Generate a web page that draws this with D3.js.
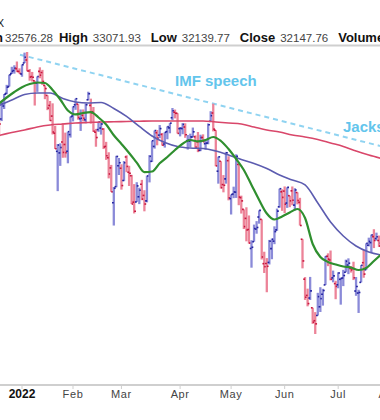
<!DOCTYPE html>
<html lang="en">
<head>
<meta charset="UTF-8" />
<title>Dow Jones 2022</title>
<style>
  body { margin: 0; background: #fff; }
  svg { display: block; font-family: "Liberation Sans", Arial, sans-serif; }
</style>
</head>
<body>
<div id="chart"></div>
<script src="https://cdn.jsdelivr.net/npm/d3@7/dist/d3.min.js"></script>
<script>
// trading days on the chart (Dec 20 2021 .. Aug 1 2022)
const dates = [
  "2021-12-20","2021-12-21","2021-12-22","2021-12-23","2021-12-27","2021-12-28","2021-12-29","2021-12-30","2021-12-31",
  "2022-01-03","2022-01-04","2022-01-05","2022-01-06","2022-01-07","2022-01-10","2022-01-11","2022-01-12","2022-01-13","2022-01-14",
  "2022-01-18","2022-01-19","2022-01-20","2022-01-21","2022-01-24","2022-01-25","2022-01-26","2022-01-27","2022-01-28","2022-01-31",
  "2022-02-01","2022-02-02","2022-02-03","2022-02-04","2022-02-07","2022-02-08","2022-02-09","2022-02-10","2022-02-11","2022-02-14",
  "2022-02-15","2022-02-16","2022-02-17","2022-02-18","2022-02-22","2022-02-23","2022-02-24","2022-02-25","2022-02-28",
  "2022-03-01","2022-03-02","2022-03-03","2022-03-04","2022-03-07","2022-03-08","2022-03-09","2022-03-10","2022-03-11","2022-03-14",
  "2022-03-15","2022-03-16","2022-03-17","2022-03-18","2022-03-21","2022-03-22","2022-03-23","2022-03-24","2022-03-25","2022-03-28",
  "2022-03-29","2022-03-30","2022-03-31",
  "2022-04-01","2022-04-04","2022-04-05","2022-04-06","2022-04-07","2022-04-08","2022-04-11","2022-04-12","2022-04-13","2022-04-14",
  "2022-04-18","2022-04-19","2022-04-20","2022-04-21","2022-04-22","2022-04-25","2022-04-26","2022-04-27","2022-04-28","2022-04-29",
  "2022-05-02","2022-05-03","2022-05-04","2022-05-05","2022-05-06","2022-05-09","2022-05-10","2022-05-11","2022-05-12","2022-05-13",
  "2022-05-16","2022-05-17","2022-05-18","2022-05-19","2022-05-20","2022-05-23","2022-05-24","2022-05-25","2022-05-26","2022-05-27","2022-05-31",
  "2022-06-01","2022-06-02","2022-06-03","2022-06-06","2022-06-07","2022-06-08","2022-06-09","2022-06-10","2022-06-13","2022-06-14",
  "2022-06-15","2022-06-16","2022-06-17","2022-06-21","2022-06-22","2022-06-23","2022-06-24","2022-06-27","2022-06-28","2022-06-29","2022-06-30",
  "2022-07-01","2022-07-05","2022-07-06","2022-07-07","2022-07-08","2022-07-11","2022-07-12","2022-07-13","2022-07-14","2022-07-15",
  "2022-07-18","2022-07-19","2022-07-20","2022-07-21","2022-07-22","2022-07-25","2022-07-26","2022-07-27","2022-07-28","2022-07-29",
  "2022-08-01"
];
const open = [
  35046,35070,35427,35776,35970,36335,36421,36476,36396,
  36322,36636,36722,36409,36249,36131,36067,36398,36364,36002,35722,35442,35150,34682,34196,34154,34445,34379,34197,34646,
  35152,35460,35480,35075,35169,35047,35600,35444,35271,34710,34780,34822,34796,34327,34026,33757,32851,33265,33815,
  33747,33426,34046,33642,33552,32866,32871,33005,33330,33039,32900,33650,33930,34327,34696,34631,34650,34394,34725,34827,35104,35253,35225,
  34807,34809,34851,34481,34467,34579,34585,34452,34223,34567,34400,34417,35007,35234,34764,33670,33932,33320,33469,33948,
  32957,33074,33124,33849,32982,32681,32453,32174,31700,31867,32183,32487,32428,31326,31330,31356,31696,31881,32164,32747,33133,
  33151,32843,33033,33158,32790,33115,32861,31929,30949,30560,30497,30266,29962,30084,30290,30587,30811,31508,31416,30981,30842,
  30814,30946,30977,31118,31293,31210,31205,30664,30616,30872,31350,31177,31780,31845,31994,31946,31898,31833,32203,32519,
  32785
];
const high = [
  35101,35537,35760,36017,36303,36528,36571,36679,36484,
  36595,36934,36952,36464,36382,36131,36253,36513,36440,36002,35722,35567,35501,34882,34390,34409,34955,34699,34727,35133,
  35418,35629,35480,35331,35332,35495,35824,35631,35399,34800,34997,34964,34819,34450,34171,33836,33258,34076,34018,
  33852,33938,34090,33812,33574,33332,33382,33239,33443,33174,33555,34095,34484,34755,34769,34905,34690,34710,34866,34956,35372,35329,35227,
  34849,34956,34952,34636,34671,34836,34625,34715,34643,34652,34516,34948,35284,35492,34764,34054,33932,33568,34181,34065,
  33062,33266,34117,33849,33034,32681,32735,32527,31904,32296,32383,32655,32428,31619,31462,31912,31946,32252,32702,33213,33198,
  33272,33249,33033,33271,33226,33119,32978,31929,31000,30721,31004,30266,30164,30621,30756,30717,31509,31579,31649,31157,30910,
  31116,30985,31175,31424,31456,31267,31374,31001,30694,31291,31661,31827,31968,32044,32179,32093,32021,32292,32574,32909,
  32932
];
const low = [
  34596,35013,35344,35754,35970,36323,36333,36375,36336,
  36246,36636,36400,36133,36111,35440,35820,36202,36014,35616,35313,35014,34649,34258,33150,33810,34025,34028,33878,34565,
  35004,35322,35052,34745,35007,34951,35583,34942,34720,34319,34720,34645,34257,33969,33481,33131,32272,33252,33570,
  33189,33408,33645,33284,32818,32578,32871,32816,32916,32632,32861,33377,33912,34269,34357,34547,34349,34296,34519,34681,35036,35086,34675,
  34597,34655,34559,34243,34307,34579,34288,34174,34200,34444,34237,34384,34991,34732,33800,33344,33216,33119,33343,32913,
  32551,32969,32975,32788,32575,32184,31877,31819,31228,31867,32067,32319,31428,31099,30635,31306,31435,31806,32139,32726,32644,
  32585,32720,32737,32786,32650,32810,32273,31211,30452,30300,30450,29888,29653,30084,30166,30317,30811,31265,30921,30873,30469,
  30730,30340,30782,31117,31071,31109,30928,30550,30144,30872,30984,31177,31751,31603,31709,31894,31738,31815,32071,32480,
  32648
];
const close = [
  34932,35493,35754,35951,36302,36398,36488,36398,36338,
  36585,36800,36408,36236,36231,36068,36252,36290,36113,35912,35369,35029,34715,34265,34364,34298,34168,34160,34725,35132,
  35405,35629,35111,35089,35091,35463,35768,35241,34738,34566,34989,34935,34312,34079,33597,33132,33224,34059,33893,
  33295,33891,33795,33615,32818,32633,33286,33174,32945,32818,33545,34063,34481,34755,34553,34808,34359,34708,34861,34956,35295,35229,34678,
  34818,34922,34641,34497,34583,34721,34308,34221,34565,34452,34412,34911,35161,34793,33811,34049,33240,33302,34160,32977,
  33062,33129,34061,32998,32899,32246,32161,31834,31730,32197,32223,32655,31490,31253,31262,31880,31929,32120,32637,33213,32990,
  32813,33248,32900,32916,33180,32910,32273,31393,30517,30365,30668,29927,29889,30530,30483,30677,31501,31438,30947,31029,30775,
  31097,30968,31037,31385,31338,31173,30982,30773,30630,31288,31072,31827,31875,32036,31899,31990,31762,32198,32529,32845,
  32798
];

// moving averages on a few days
const ma20Dates = [
  "2021-12-20","2021-12-23","2021-12-29","2022-01-03","2022-01-06","2022-01-11","2022-01-14","2022-01-20","2022-01-25","2022-01-28",
  "2022-02-02","2022-02-07","2022-02-10","2022-02-15","2022-02-18","2022-02-24","2022-03-01","2022-03-04","2022-03-09","2022-03-14",
  "2022-03-17","2022-03-22","2022-03-25","2022-03-30","2022-04-04","2022-04-07","2022-04-12","2022-04-18","2022-04-21","2022-04-26",
  "2022-04-29","2022-05-04","2022-05-09","2022-05-12","2022-05-17","2022-05-20","2022-05-25","2022-05-31","2022-06-03","2022-06-08",
  "2022-06-13","2022-06-16","2022-06-22","2022-06-27","2022-06-30","2022-07-06","2022-07-11","2022-07-14","2022-07-19","2022-07-22","2022-07-27"
];
const ma20 = [
  35497,35663,35817,35951,36039,36083,36069,35873,35608,35303,
  35194,35235,35257,35111,34917,34627,34392,34152,33897,33644,
  33661,33878,34046,34232,34400,34500,34460,34500,34581,34473,
  34258,33992,33702,33310,32922,32577,32425,32501,32602,32691,
  32463,31811,31489,31367,31306,31257,31233,31172,31220,31391,31563
];
const maLongDates = [
  "2021-12-20","2021-12-28","2022-01-04","2022-01-11","2022-01-19","2022-01-26","2022-02-02","2022-02-09","2022-02-16","2022-02-24",
  "2022-03-03","2022-03-10","2022-03-17","2022-03-24","2022-03-31","2022-04-07","2022-04-14","2022-04-22","2022-04-29","2022-05-06",
  "2022-05-13","2022-05-20","2022-05-27","2022-06-06","2022-06-13","2022-06-21","2022-06-28","2022-07-06","2022-07-13","2022-07-20","2022-07-27"
];
const ma50 = [
  35442,35594,35747,35789,35789,35636,35539,35511,35525,35359,
  35139,34866,34608,34433,34326,34285,34272,34205,34099,33979,
  33873,33741,33571,33440,33310,32845,32361,32010,31761,31612,31539
];
const ma200 = [
  34622,34703,34771,34852,34906,34933,34961,34975,34988,34994,
  35002,35009,35016,35016,35016,35016,35016,34988,34961,34933,
  34852,34771,34716,34635,34582,34514,34420,34326,34205,34099,34006
];

// dashed trend line through two highs
const trendDates = ["2022-01-03", "2022-04-21"];
const trendValues = [36860, 35492];

const tickDates = ["2022-01-03","2022-02-01","2022-03-01","2022-04-01","2022-05-02","2022-06-01","2022-07-01","2022-08-01"];
const tickLabels = ["2022","Feb","Mar","Apr","May","Jun","Jul","Aug"];

const headerLabels = ["High", "Low", "Close", "Volume"];
const headerValues = ["33071.93", "32139.77", "32147.76"];
const openValue = "32576.28";

const width = 380;
const height = 420;
const plotTop = 46;
const plotBottom = 385;

const svg = d3.select("#chart").append("svg")
  .attr("width", width)
  .attr("height", height);

svg.append("rect").attr("width", width).attr("height", height).attr("fill", "#fff");

// x: one slot per trading day, y: log price scale
const x = d3.scalePoint().domain(dates).range([-0.95, 389.2]);
const y = d3.scaleLog().domain([29653, 36952]).range([334, 52]);

svg.append("defs").append("clipPath").attr("id", "plot")
  .append("rect").attr("x", 0).attr("y", plotTop).attr("width", width).attr("height", plotBottom - plotTop);

// title, cut at the left edge like the source
svg.append("text").attr("x", 4).attr("y", 27).attr("text-anchor", "end")
  .attr("font-size", 11).attr("fill", "#222").text("$INDU Dow Jones Industrial Average INDX");

// header line, laid out left to right
const header = svg.append("g").attr("transform", "translate(0,42)");
header.append("text").attr("x", 3).attr("text-anchor", "end")
  .attr("font-size", 13).attr("font-weight", "bold").attr("fill", "#111").text("Open");
let cx = 5;
function headerNum(t, gap) {
  const n = header.append("text").attr("x", cx).attr("font-size", 11.5).attr("fill", "#444").text(t);
  cx += n.node().getComputedTextLength() + gap;
}
function headerLab(t) {
  const n = header.append("text").attr("x", cx).attr("font-size", 13).attr("font-weight", "bold")
    .attr("fill", "#111").text(t);
  cx += n.node().getComputedTextLength() + 5;
}
headerNum(openValue, 6);
headerLabels.forEach((lab, i) => {
  headerLab(lab);
  if (headerValues[i]) headerNum(headerValues[i], 10);
});

svg.append("line").attr("x1", 0).attr("x2", width).attr("y1", 45.5).attr("y2", 45.5)
  .attr("stroke", "#cfcfcf").attr("stroke-width", 2);
svg.append("line").attr("x1", 0).attr("x2", width).attr("y1", 385).attr("y2", 385)
  .attr("stroke", "#cfcfcf").attr("stroke-width", 2);

const plot = svg.append("g").attr("clip-path", "url(#plot)");

// trend line, extended to the right edge
const p1 = [x(trendDates[0]), y(trendValues[0])];
const p2 = [x(trendDates[1]), y(trendValues[1])];
const slope = (p2[1] - p1[1]) / (p2[0] - p1[0]);
plot.append("line")
  .attr("x1", p1[0] - 2).attr("y1", p1[1] - 2 * slope)
  .attr("x2", width).attr("y2", p1[1] + (width - p1[0]) * slope)
  .attr("stroke", "#8fd3f1").attr("stroke-width", 2).attr("stroke-dasharray", "5,4");

// OHLC bars
const bars = dates.map((d, i) => ({ d, o: open[i], h: high[i], l: low[i], c: close[i] }));
const upLine = "#8a8ad8", upTick = "#2323a0";
const dnLine = "#ec8398", dnTick = "#c8163e";

const bar = plot.selectAll("g.bar").data(bars).join("g").attr("class", "bar");
bar.append("line")
  .attr("x1", b => x(b.d)).attr("x2", b => x(b.d))
  .attr("y1", b => y(b.h)).attr("y2", b => y(b.l))
  .attr("stroke", b => b.c >= b.o ? upLine : dnLine).attr("stroke-width", 2.3);
bar.append("line")
  .attr("x1", b => x(b.d) - 1.8).attr("x2", b => x(b.d))
  .attr("y1", b => y(b.o)).attr("y2", b => y(b.o))
  .attr("stroke", b => b.c >= b.o ? upTick : dnTick).attr("stroke-width", 1.6);
bar.append("line")
  .attr("x1", b => x(b.d)).attr("x2", b => x(b.d) + 1.8)
  .attr("y1", b => y(b.c)).attr("y2", b => y(b.c))
  .attr("stroke", b => b.c >= b.o ? upTick : dnTick).attr("stroke-width", 1.6);

// moving averages
function maLine(ds, vs, color, w) {
  const line = d3.line().x(p => x(p[0])).y(p => y(p[1])).curve(d3.curveMonotoneX);
  plot.append("path").attr("d", line(ds.map((d, i) => [d, vs[i]])))
    .attr("fill", "none").attr("stroke", color).attr("stroke-width", w);
}
maLine(maLongDates, ma200, "#d9476a", 1.6);
maLine(maLongDates, ma50, "#5c5cb0", 1.6);
maLine(ma20Dates, ma20, "#2f8f2f", 2.2);

// annotations
plot.append("text").attr("x", 175).attr("y", 86).attr("font-size", 15).attr("font-weight", "bold")
  .attr("fill", "#63c5ec").text("IMF speech");
plot.append("text").attr("x", 343).attr("y", 132).attr("font-size", 15).attr("font-weight", "bold")
  .attr("fill", "#63c5ec").text("Jackson Hole");

// month axis
const ax = svg.append("g");
tickDates.forEach((t, i) => {
  const tx = x(t);
  ax.append("line").attr("x1", tx).attr("x2", tx).attr("y1", 385).attr("y2", 389)
    .attr("stroke", "#cfcfcf");
  ax.append("text").attr("x", tx).attr("y", 398).attr("text-anchor", "middle")
    .attr("font-size", i === 0 ? 12 : 11).attr("font-weight", i === 0 ? "bold" : "normal")
    .attr("letter-spacing", i === 0 ? 0 : 0.6)
    .attr("fill", i === 0 ? "#111" : "#444").text(tickLabels[i]);
});
</script>
</body>
</html>
